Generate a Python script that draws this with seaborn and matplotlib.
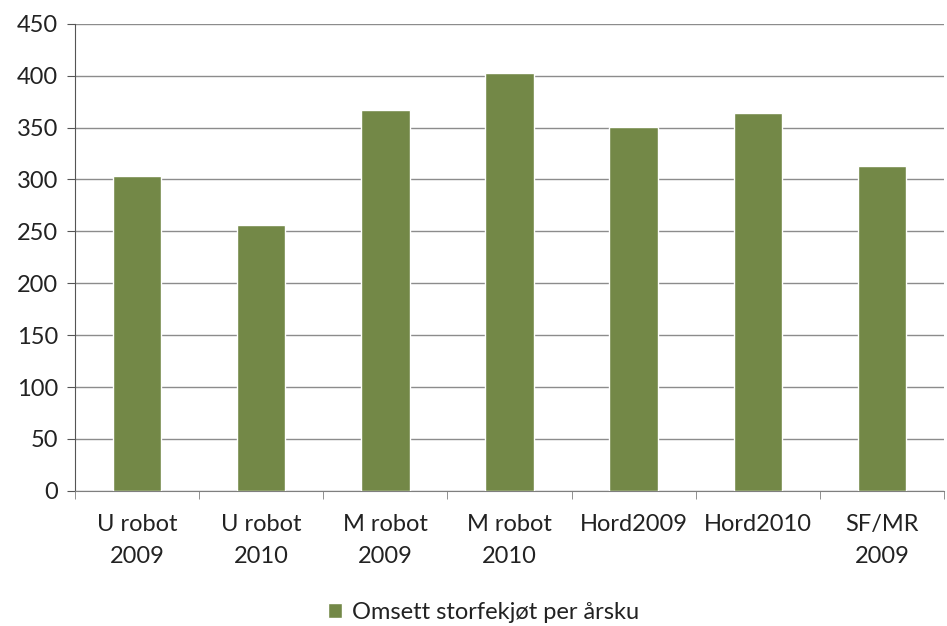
import numpy as np
import pandas as pd
import seaborn as sns
import matplotlib.pyplot as plt

# Data
categories = ['U robot\n2009', 'U robot\n2010', 'M robot\n2009', 'M robot\n2010',
              'Hord2009', 'Hord2010', 'SF/MR\n2009']
values = [303, 256, 367, 403, 351, 364, 313]
series_name = 'Omsett storfekjøt per årsku'
y_ticks = [0, 50, 100, 150, 200, 250, 300, 350, 400, 450]

df = pd.DataFrame({'kategori': categories, 'verdi': values, 'serie': series_name})

sns.set_style('white')
plt.rcParams['font.family'] = ['Lato', 'DejaVu Sans']

fig = plt.figure(figsize=(9.47, 6.26), dpi=100)
ax = fig.add_axes([0.079, 0.216, 0.918, 0.746])

sns.barplot(data=df, x='kategori', y='verdi', hue='serie', palette=['#77933C'],
            width=0.39, dodge=False, ax=ax, zorder=3)

ax.set_ylim(0, 450)
ax.set_yticks(y_ticks)
ax.set_xlim(-0.5, len(categories) - 0.5)
ax.grid(axis='y', color='#8c8c8c', linewidth=1.0, zorder=0)
ax.set_axisbelow(True)
ax.set_xlabel('')
ax.set_ylabel('')

for side in ['top', 'right']:
    ax.spines[side].set_visible(False)
ax.spines['left'].set_color('#555555')
ax.spines['bottom'].set_color('#7f7f7f')

ax.tick_params(axis='y', which='major', length=6, color='#555555', labelsize=17,
               labelcolor='#222222', left=True, pad=6)
ax.tick_params(axis='x', which='major', length=0, labelsize=17, labelcolor='#222222', pad=17)
for lbl in ax.get_xticklabels():
    lbl.set_linespacing(1.6)
ax.set_xticks(np.arange(-0.5, len(categories), 1.0), minor=True)
ax.tick_params(axis='x', which='minor', length=6, color='#7f7f7f', bottom=True)

leg = ax.legend(loc='center', bbox_to_anchor=(0.47, -0.26), frameon=False,
                fontsize=17, handlelength=0.6, handleheight=0.6, handletextpad=0.4)
for t in leg.get_texts():
    t.set_color('#222222')

fig.savefig('out.png', dpi=100)
